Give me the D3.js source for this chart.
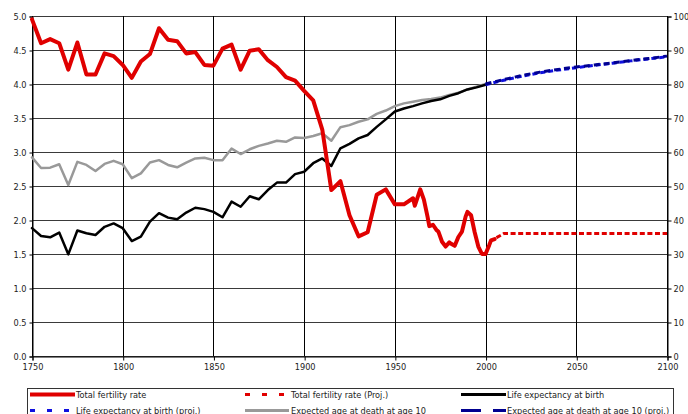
<!DOCTYPE html>
<html><head><meta charset="utf-8">
<script src="https://cdn.jsdelivr.net/npm/d3@7"></script>
<style>body{margin:0;background:#fff}svg{display:block}</style>
</head><body>
<svg id="c" width="688" height="414"></svg>
<script>
const fertYears = [1750,1755,1760,1765,1770,1775,1780,1785,1790,1795,1800,1805,1810,1815,1820,1825,1830,1835,1840,1845,1850,1855,1860,1865,1870,1875,1880,1885,1890,1895,1900,1905,1910,1915,1920,1925,1930,1935,1940,1945,1950,1955,1960,1961,1964,1966,1968,1969,1971,1973,1974,1976,1978,1980,1981,1983,1985,1987,1989,1990,1992,1994,1996,1998,2000,2002,2003,2005];
const fertValues = [4.95,4.60,4.66,4.60,4.21,4.61,4.14,4.14,4.45,4.41,4.28,4.09,4.33,4.44,4.82,4.65,4.63,4.45,4.47,4.28,4.27,4.52,4.58,4.21,4.49,4.51,4.35,4.25,4.10,4.05,3.90,3.76,3.33,2.44,2.57,2.07,1.76,1.82,2.37,2.45,2.23,2.23,2.32,2.21,2.45,2.30,2.05,1.91,1.93,1.85,1.83,1.68,1.61,1.67,1.65,1.62,1.75,1.83,2.05,2.12,2.07,1.82,1.61,1.50,1.50,1.63,1.70,1.72];
const fertProjYears = [2006,2010,2020,2030,2040,2050,2060,2070,2080,2090,2100];
const fertProjValues = [1.74,1.80,1.80,1.80,1.80,1.80,1.80,1.80,1.80,1.80,1.80];
const lifeYears = [1750,1755,1760,1765,1770,1775,1780,1785,1790,1795,1800,1805,1810,1815,1820,1825,1830,1835,1840,1845,1850,1855,1860,1865,1870,1875,1880,1885,1890,1895,1900,1905,1910,1915,1920,1925,1930,1935,1940,1945,1950,1955,1960,1965,1970,1975,1980,1985,1990,1995,2000];
const lifeBirth = [37.6,35.3,34.9,36.3,29.9,36.9,36.1,35.6,38.0,39.0,37.6,33.8,35.1,39.5,42.0,40.7,40.2,42.2,43.6,43.2,42.4,40.8,45.4,43.9,47.0,46.1,48.8,51.0,51.0,53.5,54.2,56.7,58.1,55.9,61.1,62.4,64.0,65.0,67.4,69.6,71.9,72.8,73.5,74.3,75.0,75.5,76.5,77.3,78.4,79.0,79.8];
const lifeAge10 = [58.4,55.3,55.4,56.4,50.3,57.1,56.2,54.4,56.5,57.4,56.4,52.3,53.7,56.9,57.6,56.2,55.5,56.9,58.1,58.3,57.6,57.6,61.0,59.4,60.8,61.8,62.5,63.3,63.0,64.3,64.1,64.7,65.5,63.3,67.3,67.9,68.9,69.6,71.2,72.2,73.5,74.3,74.8,75.3,75.6,76.0,76.8,77.4,78.4,79.2,80.0];
const projYears = [2000,2010,2020,2030,2040,2050,2060,2070,2080,2090,2100];
const lifeBirthProj = [79.8,81.1,82.3,83.3,84.1,84.8,85.5,86.1,86.8,87.4,88.0];
const lifeAge10Proj = [80.0,81.3,82.5,83.5,84.3,85.0,85.6,86.2,86.9,87.5,88.2];
const xTicks = [1750,1800,1850,1900,1950,2000,2050,2100];
const leftTicks = [0,0.5,1,1.5,2,2.5,3,3.5,4,4.5,5];
const rightTicks = [0,10,20,30,40,50,60,70,80,90,100];
const legendLabels = ["Total fertility rate","Total fertility rate (Proj.)","Life expectancy at birth","Life expectancy at birth (proj.)","Expected age at death at age 10","Expected age at death at age 10 (proj.)"];

const svg = d3.select("#c");
const font = "'DejaVu Sans', Verdana, sans-serif";
const x = d3.scaleLinear().domain([1750,2100]).range([32,667]);
const yL = d3.scaleLinear().domain([0,5]).range([356,16]);
const yR = d3.scaleLinear().domain([0,100]).range([356,16]);

// gridlines
svg.append("g").selectAll("line").data(leftTicks).join("line")
  .attr("x1",32).attr("x2",667).attr("y1",d=>Math.round(yL(d))+0.5).attr("y2",d=>Math.round(yL(d))+0.5)
  .attr("stroke","#3a3a3a").attr("stroke-width",1);
svg.append("g").selectAll("line").data(xTicks).join("line")
  .attr("x1",d=>Math.round(x(d))+0.5).attr("x2",d=>Math.round(x(d))+0.5).attr("y1",16).attr("y2",356)
  .attr("stroke","#000").attr("stroke-width",1);

// axes
const axL = svg.append("g").attr("transform","translate(32.5,0.5)")
  .call(d3.axisLeft(yL).tickValues(leftTicks).tickFormat(d3.format(".1f")).tickSize(3).tickPadding(3));
const axR = svg.append("g").attr("transform","translate(667.5,0.5)")
  .call(d3.axisRight(yR).tickValues(rightTicks).tickFormat(d3.format("d")).tickSize(4).tickPadding(2));
const axB = svg.append("g").attr("transform","translate(0.5,356.5)")
  .call(d3.axisBottom(x).tickValues(xTicks).tickFormat(d3.format("d")).tickSize(4).tickPadding(4));
[axL,axR,axB].forEach(a=>{
  a.select(".domain").attr("stroke","#000");
  a.selectAll(".tick line").attr("stroke","#000");
  a.selectAll("text").attr("font-family",font).attr("font-size","8.2px").attr("fill","#222");
});

const lineL = d3.line().x(d=>x(d[0])).y(d=>yL(d[1]));
const lineR = d3.line().x(d=>x(d[0])).y(d=>yR(d[1]));
const zip = (a,b)=>a.map((v,i)=>[v,b[i]]);

function draw(gen, data, color, w, dash){
  const p = svg.append("path").datum(data).attr("d",gen).attr("fill","none")
    .attr("stroke",color).attr("stroke-width",w).attr("stroke-linejoin","round");
  if(dash) p.attr("stroke-dasharray",dash); else p.attr("stroke-linecap","round");
}
draw(lineR, zip(lifeYears,lifeAge10), "#999999", 2.5);
draw(lineR, zip(lifeYears,lifeBirth), "#000000", 2.5);
draw(lineL, zip(fertYears,fertValues), "#e00000", 4);
draw(lineL, zip(fertProjYears,fertProjValues), "#e00000", 3, "5,2.6");
draw(lineR, zip(projYears,lifeBirthProj), "#1010e0", 3, "5,3");
draw(lineR, zip(projYears,lifeAge10Proj), "#000090", 3, "6,4");

// legend
const lg = svg.append("g");
lg.append("rect").attr("x",27.5).attr("y",388.5).attr("width",646).attr("height",40)
  .attr("fill","#fff").attr("stroke","#333").attr("stroke-width",1);
const items = [
  {c:0,r:0,color:"#e00000",w:4,dash:null,x2:75},
  {c:1,r:0,color:"#e00000",w:3,dash:"5,12",x2:290},
  {c:2,r:0,color:"#000000",w:3,dash:null,x2:506},
  {c:0,r:1,color:"#1010e0",w:3,dash:"5,12",x2:72},
  {c:1,r:1,color:"#999999",w:3,dash:null,x2:289},
  {c:2,r:1,color:"#000090",w:3,dash:"20,12",x2:506}
];
const colX = [30,245,461], txtX = [76,291,507], rowY = [394.5,410.5];
items.forEach((it,i)=>{
  const l = lg.append("line").attr("x1",colX[it.c]).attr("x2",it.x2)
    .attr("y1",rowY[it.r]).attr("y2",rowY[it.r]).attr("stroke",it.color).attr("stroke-width",it.w);
  if(it.dash) l.attr("stroke-dasharray",it.dash);
  lg.append("text").attr("x",txtX[it.c]).attr("y",rowY[it.r]+3.5).text(legendLabels[i])
    .attr("font-family",font).attr("font-size","8.2px").attr("fill","#222");
});
</script>
</body></html>
